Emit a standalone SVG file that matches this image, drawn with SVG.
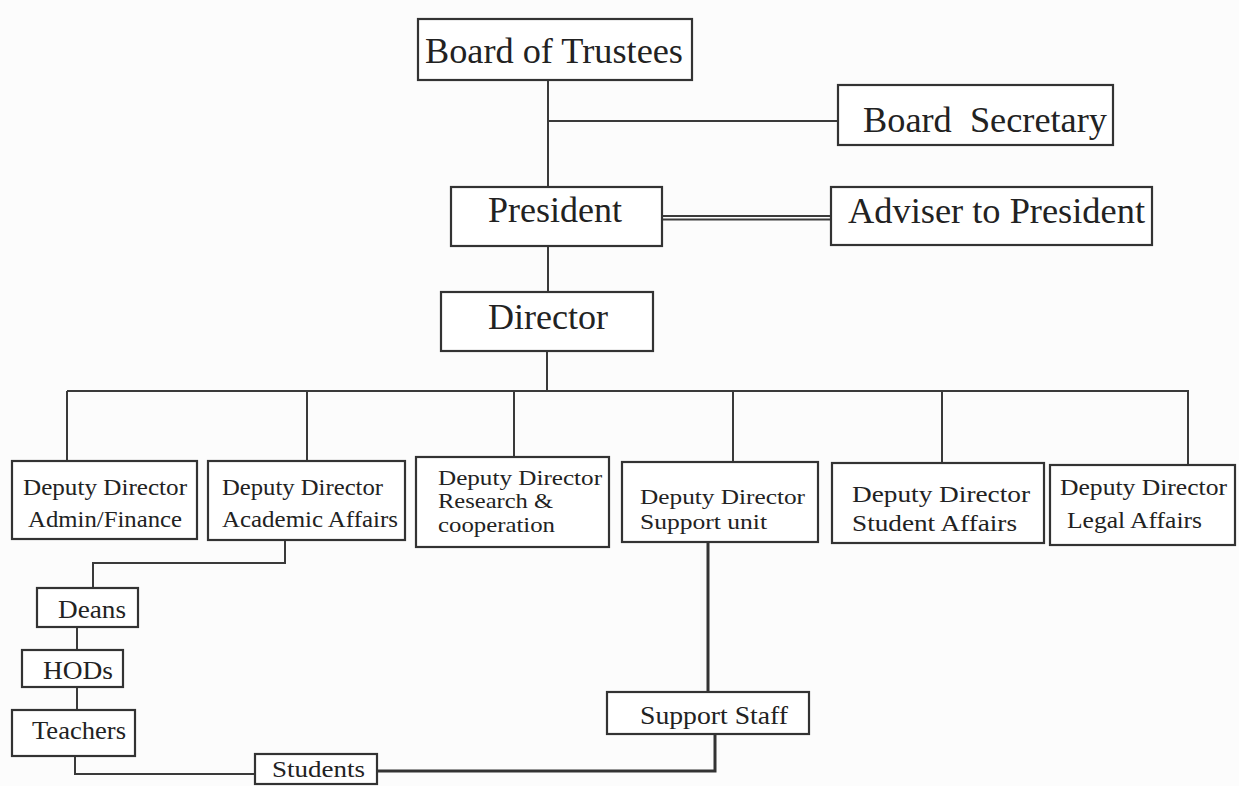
<svg xmlns="http://www.w3.org/2000/svg" width="1239" height="786" viewBox="0 0 1239 786">
<style>
.box{fill:#fff;stroke:#333;stroke-width:2.2}
.t{font-family:"Liberation Serif","Times New Roman",serif;fill:#222;white-space:pre}
.big{font-size:36px}
.mid{font-size:24px}
.mid2{font-size:22px}
.sm{font-size:26px}
.ln{fill:none;stroke:#3a3a3a;stroke-width:2}
.th{fill:none;stroke:#333;stroke-width:3}
</style>
<rect width="1239" height="786" fill="#fcfcfc"/>
<g id="connectors">
<path class="ln" d="M548,80V187M548,121H838"/>
<path class="ln" d="M662,216H831M662,219.5H831"/>
<path class="ln" d="M548,246V292M547,351V391"/>
<path class="ln" d="M67,391H1189"/>
<path class="ln" d="M67,391V461M307,391V461M514,391V457M733,391V462M942,391V463M1188,391V465"/>
<path class="ln" d="M285,540V563H93V588"/>
<path class="ln" d="M77,627V650M77,687V710"/>
<path class="ln" d="M75,756V774H255"/>
<path class="th" d="M708,542V692"/>
<path class="th" d="M377,771H715V734"/>
</g>
<g id="board-of-trustees"><rect class="box" x="418" y="19" width="274" height="61"/><text class="t big" x="425" y="63" textLength="258" lengthAdjust="spacingAndGlyphs">Board of Trustees</text></g>
<g id="board-secretary"><rect class="box" x="838" y="85" width="275" height="60"/><text class="t big" x="863" y="132" textLength="244" lengthAdjust="spacingAndGlyphs">Board  Secretary</text></g>
<g id="president"><rect class="box" x="451" y="187" width="211" height="59"/><text class="t big" x="488" y="222" textLength="134" lengthAdjust="spacingAndGlyphs">President</text></g>
<g id="adviser"><rect class="box" x="831" y="187" width="321" height="58"/><text class="t big" x="848" y="223" textLength="297" lengthAdjust="spacingAndGlyphs">Adviser to President</text></g>
<g id="director"><rect class="box" x="441" y="292" width="212" height="59"/><text class="t big" x="488" y="329" textLength="120" lengthAdjust="spacingAndGlyphs">Director</text></g>
<g id="dd-admin"><rect class="box" x="12" y="461" width="185" height="78"/><text class="t mid" x="23" y="495" textLength="164" lengthAdjust="spacingAndGlyphs">Deputy Director</text><text class="t mid" x="28" y="527" textLength="154" lengthAdjust="spacingAndGlyphs">Admin/Finance</text></g>
<g id="dd-academic"><rect class="box" x="208" y="461" width="197" height="79"/><text class="t mid" x="222" y="495" textLength="161" lengthAdjust="spacingAndGlyphs">Deputy Director</text><text class="t mid" x="222" y="527" textLength="176" lengthAdjust="spacingAndGlyphs">Academic Affairs</text></g>
<g id="dd-research"><rect class="box" x="416" y="457" width="193" height="90"/><text class="t mid2" x="438" y="485" textLength="164" lengthAdjust="spacingAndGlyphs">Deputy Director</text><text class="t mid2" x="438" y="508" textLength="115" lengthAdjust="spacingAndGlyphs">Research &amp;</text><text class="t mid2" x="438" y="532" textLength="117" lengthAdjust="spacingAndGlyphs">cooperation</text></g>
<g id="dd-support"><rect class="box" x="622" y="462" width="196" height="80"/><text class="t mid2" x="640" y="504" textLength="165" lengthAdjust="spacingAndGlyphs">Deputy Director</text><text class="t mid2" x="640" y="529" textLength="127" lengthAdjust="spacingAndGlyphs">Support unit</text></g>
<g id="dd-student"><rect class="box" x="832" y="463" width="212" height="80"/><text class="t mid" x="852" y="502" textLength="178" lengthAdjust="spacingAndGlyphs">Deputy Director</text><text class="t mid" x="852" y="531" textLength="165" lengthAdjust="spacingAndGlyphs">Student Affairs</text></g>
<g id="dd-legal"><rect class="box" x="1050" y="465" width="185" height="80"/><text class="t mid" x="1060" y="495" textLength="167" lengthAdjust="spacingAndGlyphs">Deputy Director</text><text class="t mid" x="1067" y="528" textLength="135" lengthAdjust="spacingAndGlyphs">Legal Affairs</text></g>
<g id="deans"><rect class="box" x="37" y="588" width="101" height="39"/><text class="t sm" x="58" y="618" textLength="68" lengthAdjust="spacingAndGlyphs">Deans</text></g>
<g id="hods"><rect class="box" x="22" y="650" width="101" height="37"/><text class="t sm" x="43" y="679" textLength="70" lengthAdjust="spacingAndGlyphs">HODs</text></g>
<g id="teachers"><rect class="box" x="12" y="710" width="123" height="46"/><text class="t sm" x="32" y="739" textLength="94" lengthAdjust="spacingAndGlyphs">Teachers</text></g>
<g id="students"><rect class="box" x="255" y="754" width="122" height="30"/><text class="t mid" x="272" y="777" textLength="93" lengthAdjust="spacingAndGlyphs">Students</text></g>
<g id="support-staff"><rect class="box" x="607" y="692" width="202" height="42"/><text class="t sm" x="640" y="724" textLength="148" lengthAdjust="spacingAndGlyphs">Support Staff</text></g>
</svg>
